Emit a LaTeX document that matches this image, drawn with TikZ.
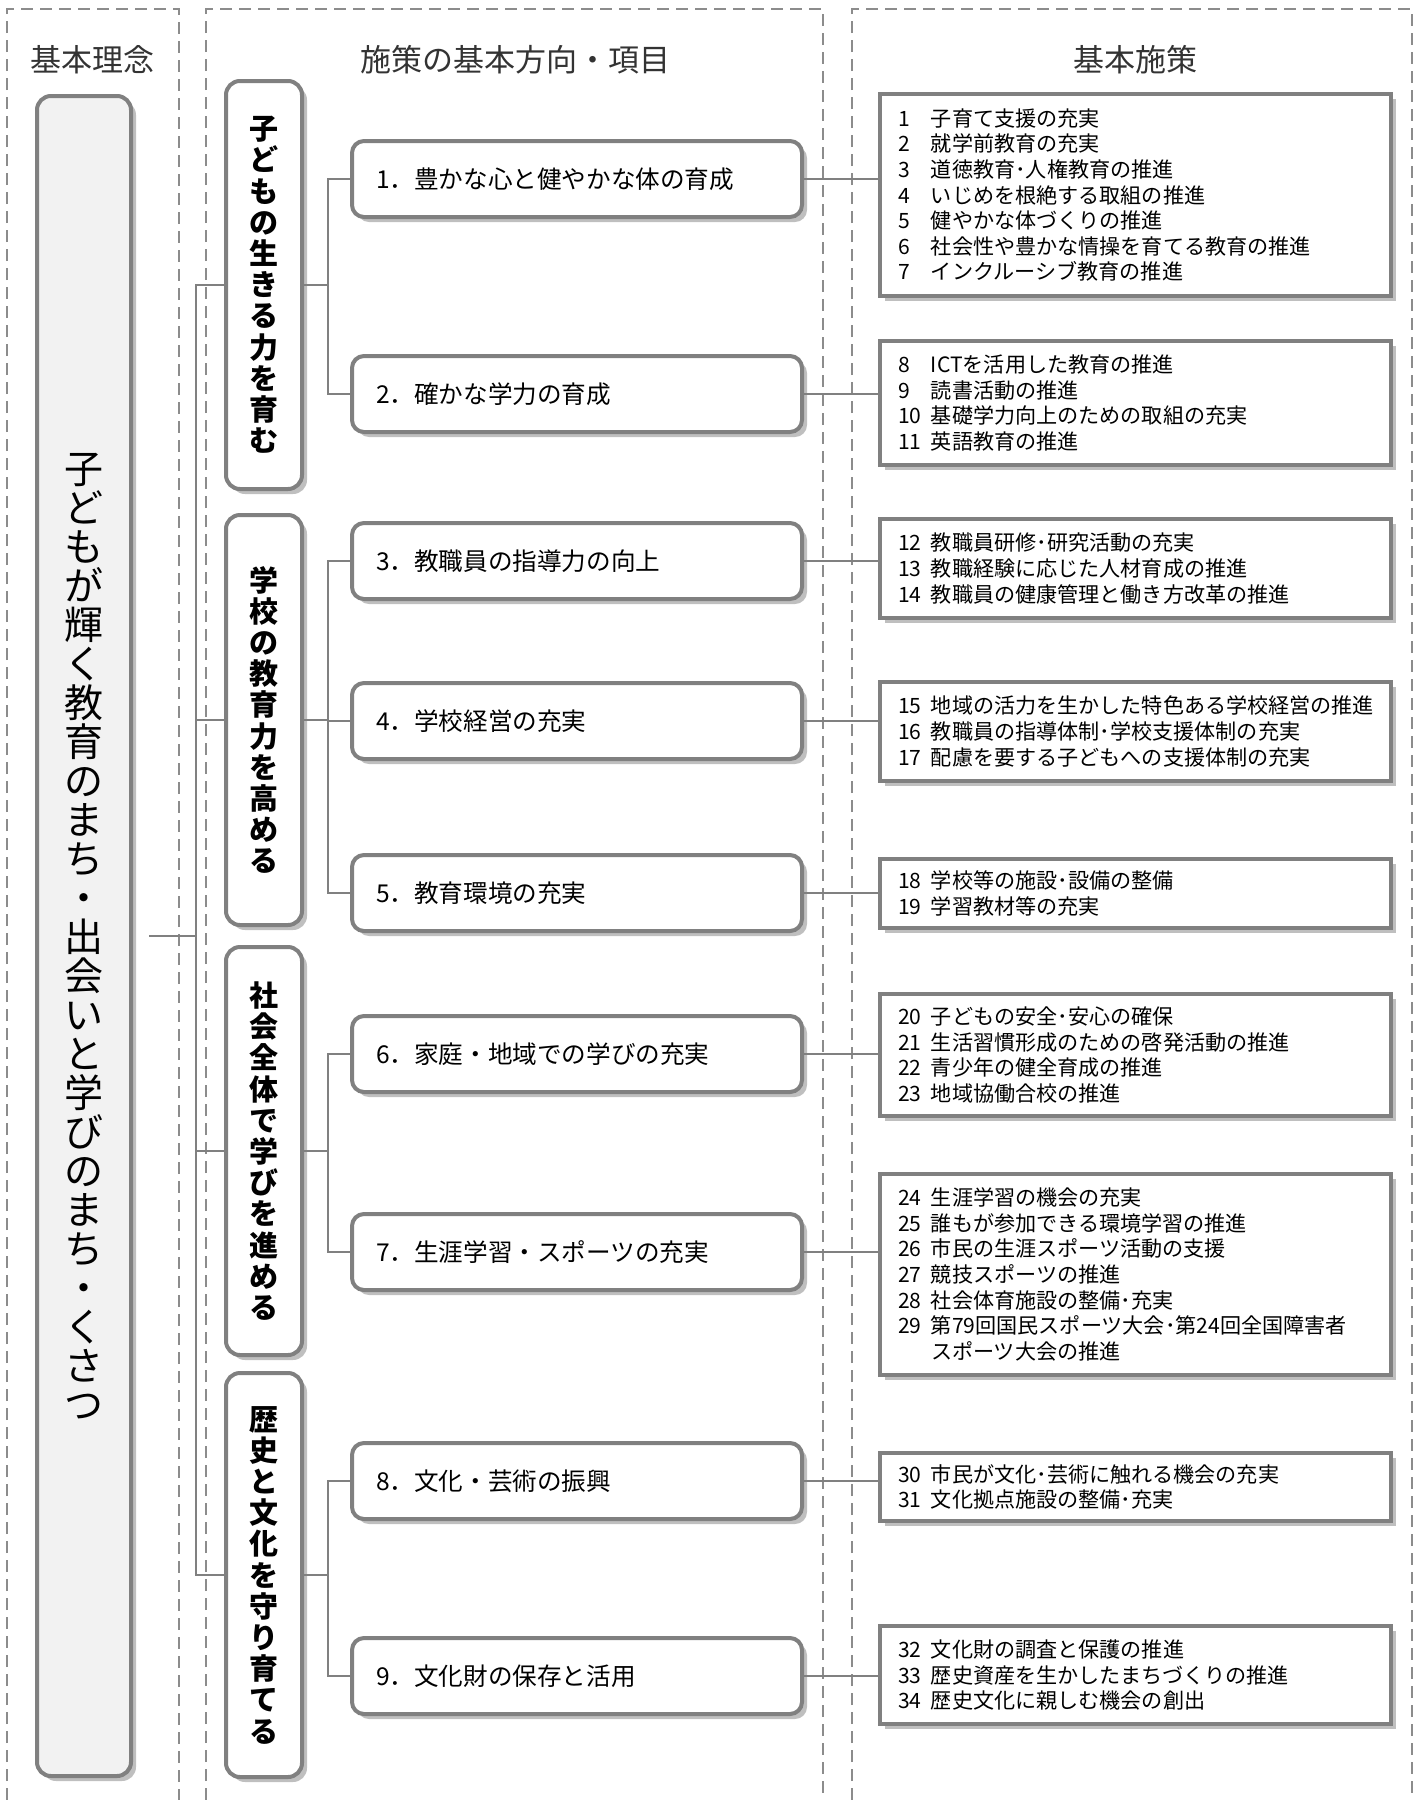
\documentclass[tikz,border=0pt]{standalone}
\usepackage{fontspec}
\setmainfont{Noto Sans CJK JP}
\usetikzlibrary{shadows}
\makeatletter
\def\vtxt#1{\vtxt@aux#1\relax}
\def\vtxt@aux#1{\ifx#1\relax\else\hbox to 1em{\hss#1\hss}\expandafter\vtxt@aux\fi}
\makeatother
\newcommand\vcol[1]{\vbox{\lineskiplimit=-20pt\vtxt{#1}}}
\newcommand\lnum[1]{\makebox[16.5pt][l]{#1}}
\begin{document}
\begin{tikzpicture}[x=0.5pt,y=-0.5pt,
  panel/.style={draw=black!45, line width=0.9pt, dash pattern=on 6pt off 3.5pt},
  conn/.style={draw=black!50, line width=1.4pt},
  sh/.style={drop shadow={shadow xshift=2.5pt, shadow yshift=-2.5pt, fill=black, opacity=0.25}},
  bigbox/.style={draw=black!50, line width=2pt, fill=black!5, rounded corners=7pt, minimum width=47pt, minimum height=840pt, inner sep=0pt, sh, font=\fontsize{19.5}{19.5}\selectfont},
  catbox/.style={draw=black!50, line width=2pt, fill=white, rounded corners=7pt, minimum width=38pt, inner sep=0pt, sh, font=\fontsize{14.5}{15.6}\selectfont\bfseries},
  itembox/.style={draw=black!50, line width=2pt, fill=white, rounded corners=6pt, text width=201pt, inner xsep=12pt, inner ysep=0pt, minimum height=38pt, align=left, sh, font=\fontsize{12.3}{14}\selectfont},
  listbox/.style={draw=black!50, line width=2pt, fill=white, text width=237.5pt, inner xsep=9pt, inner ysep=0pt, align=left, sh, font=\fontsize{10.55}{12.8}\selectfont},
  ttl/.style={font=\fontsize{15.5}{18}\selectfont, text=black!80}
]
\useasboundingbox (0,0) rectangle (1419,1800);
\fill[white] (0,0) rectangle (1419,1800);

% dashed panels
\draw[panel] (7,1800) -- (7,9) -- (179,9) -- (179,1800);
\draw[panel] (206,1800) -- (206,9) -- (823,9) -- (823,1800);
\draw[panel] (852,1800) -- (852,9) -- (1412,9) -- (1412,1800);

% titles
\node[ttl] (t1) at (93,60) {基本理念};
\node[ttl] (t2) at (515,60) {施策の基本方向・項目};
\node[ttl] (t3) at (1135,60) {基本施策};

% main box
\node[bigbox] (big) at (84,936) {\vcol{子どもが輝く教育のまち・出会いと学びのまち・くさつ}};

% category boxes
\node[catbox, minimum height=204pt] (c1) at (264,285) {\vcol{子どもの生きる力を育む}};
\node[catbox, minimum height=205pt] (c2) at (264,720) {\vcol{学校の教育力を高める}};
\node[catbox, minimum height=204pt] (c3) at (264,1151) {\vcol{社会全体で学びを進める}};
\node[catbox, minimum height=202pt] (c4) at (264,1575) {\vcol{歴史と文化を守り育てる}};

% item boxes
\node[itembox] (i1) at (577,179) {1．豊かな心と健やかな体の育成};
\node[itembox] (i2) at (577,394) {2．確かな学力の育成};
\node[itembox] (i3) at (577,561) {3．教職員の指導力の向上};
\node[itembox] (i4) at (577,721) {4．学校経営の充実};
\node[itembox] (i5) at (577,893) {5．教育環境の充実};
\node[itembox] (i6) at (577,1054) {6．家庭・地域での学びの充実};
\node[itembox] (i7) at (577,1252) {7．生涯学習・スポーツの充実};
\node[itembox] (i8) at (577,1481) {8．文化・芸術の振興};
\node[itembox] (i9) at (577,1676) {9．文化財の保存と活用};

% list boxes
\node[listbox, minimum height=101pt] (r1) at (1135.5,195) {\lnum{1}子育て支援の充実\\\lnum{2}就学前教育の充実\\\lnum{3}道徳教育･人権教育の推進\\\lnum{4}いじめを根絶する取組の推進\\\lnum{5}健やかな体づくりの推進\\\lnum{6}社会性や豊かな情操を育てる教育の推進\\\lnum{7}インクルーシブ教育の推進};
\node[listbox, minimum height=62pt] (r2) at (1135.5,403) {\lnum{8}ICTを活用した教育の推進\\\lnum{9}読書活動の推進\\\lnum{10}基礎学力向上のための取組の充実\\\lnum{11}英語教育の推進};
\node[listbox, minimum height=49.5pt] (r3) at (1135.5,568.5) {\lnum{12}教職員研修･研究活動の充実\\\lnum{13}教職経験に応じた人材育成の推進\\\lnum{14}教職員の健康管理と働き方改革の推進};
\node[listbox, minimum height=49.5pt] (r4) at (1135.5,731.5) {\lnum{15}地域の活力を生かした特色ある学校経営の推進\\\lnum{16}教職員の指導体制･学校支援体制の充実\\\lnum{17}配慮を要する子どもへの支援体制の充実};
\node[listbox, minimum height=34.5pt] (r5) at (1135.5,893.5) {\lnum{18}学校等の施設･設備の整備\\\lnum{19}学習教材等の充実};
\node[listbox, minimum height=61pt] (r6) at (1135.5,1055) {\lnum{20}子どもの安全･安心の確保\\\lnum{21}生活習慣形成のための啓発活動の推進\\\lnum{22}青少年の健全育成の推進\\\lnum{23}地域協働合校の推進};
\node[listbox, minimum height=100.5pt] (r7) at (1135.5,1274.5) {\lnum{24}生涯学習の機会の充実\\\lnum{25}誰もが参加できる環境学習の推進\\\lnum{26}市民の生涯スポーツ活動の支援\\\lnum{27}競技スポーツの推進\\\lnum{28}社会体育施設の整備･充実\\\lnum{29}第79回国民スポーツ大会･第24回全国障害者\\\hspace*{16.5pt}スポーツ大会の推進};
\node[listbox, minimum height=34pt] (r8) at (1135.5,1487) {\lnum{30}市民が文化･芸術に触れる機会の充実\\\lnum{31}文化拠点施設の整備･充実};
\node[listbox, minimum height=49pt] (r9) at (1135.5,1675) {\lnum{32}文化財の調査と保護の推進\\\lnum{33}歴史資産を生かしたまちづくりの推進\\\lnum{34}歴史文化に親しむ機会の創出};

% main trunk
\coordinate (tk) at (196,936);
\draw[conn] ([xshift=8pt]big.east) -- (tk);
\foreach \c in {c1,c2,c3,c4} \draw[conn] (tk) |- (\c.west);

% sub trunks
\path (c1.east) ++(12pt,0) coordinate (j1);
\path (c2.east) ++(12pt,0) coordinate (j2);
\path (c3.east) ++(12pt,0) coordinate (j3);
\path (c4.east) ++(12pt,0) coordinate (j4);
\draw[conn] (c1.east) -- (j1);
\draw[conn] (j1) |- (i1.west);
\draw[conn] (j1) |- (i2.west);
\draw[conn] (c2.east) -- (j2);
\draw[conn] (j2) |- (i3.west);
\draw[conn] (j2) |- (i4.west);
\draw[conn] (j2) |- (i5.west);
\draw[conn] (c3.east) -- (j3);
\draw[conn] (j3) |- (i6.west);
\draw[conn] (j3) |- (i7.west);
\draw[conn] (c4.east) -- (j4);
\draw[conn] (j4) |- (i8.west);
\draw[conn] (j4) |- (i9.west);

% item to list connectors
\foreach \n in {1,...,9} \draw[conn] (i\n.east) -- (i\n.east -| r\n.west);
\end{tikzpicture}
\end{document}
